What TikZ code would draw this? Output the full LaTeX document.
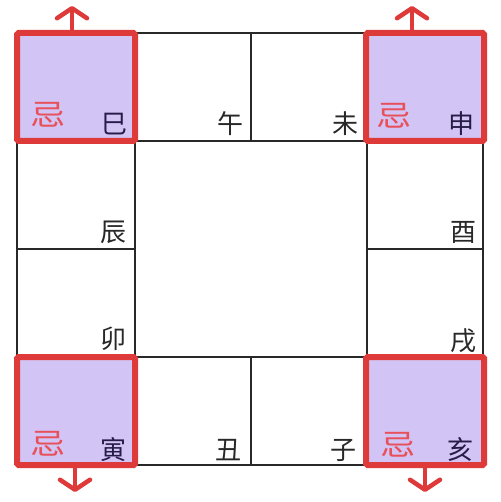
\documentclass[tikz,border=0pt]{standalone}
\usepackage{fontspec}
\newfontfamily\cjk{Noto Sans CJK SC}
\usetikzlibrary{arrows.meta}

\definecolor{jired}{RGB}{222,58,58}
\definecolor{jifill}{RGB}{210,196,244}
\definecolor{jiink}{RGB}{232,80,90}
\definecolor{branchink}{RGB}{40,40,40}
\definecolor{branchdark}{RGB}{38,28,72}

\tikzset{every picture/.style={line width=1.5pt}}
\tikzset{
  cell/.style={draw=branchink, line width=1.5pt},
  jibox/.style={draw=jired, fill=jifill, line width=6pt, rounded corners=1.5pt,
    inner sep=0pt, outer sep=0pt, minimum width=118pt, minimum height=108pt},
  jiarrow/.style={draw=jired, line width=4.5pt, line cap=round,
    -{Straight Barb[length=10pt, width=30pt, line cap=round, line join=round]}},
  branch/.style={anchor=base east, inner sep=0pt, text=branchink,
    font=\cjk\fontsize{26}{26}\selectfont},
  branchji/.style={branch, text=branchdark},
  jilabel/.style={anchor=base west, inner sep=0pt, text=jiink,
    font=\cjk\fontsize{29}{29}\selectfont}
}

\begin{document}
\begin{tikzpicture}[x=1pt,y=1pt,yscale=-1,xscale=1]
\useasboundingbox (0,0) rectangle (500,502);

%Shape: Rectangle [cells of the ring]
\draw [cell] (135,33) rectangle (251,141) ;
\draw [cell] (251,33) rectangle (367,141) ;
\draw [cell] (367,141) rectangle (483,249) ;
\draw [cell] (367,249) rectangle (483,357) ;
\draw [cell] (251,357) rectangle (367,465) ;
\draw [cell] (135,357) rectangle (251,465) ;
\draw [cell] (17,249) rectangle (135,357) ;
\draw [cell] (17,141) rectangle (135,249) ;

%Shape: Rectangle [marked corners]
\node [jibox] (si) at (76,87) {};
\node [jibox] (shen) at (425,87) {};
\node [jibox] (hai) at (425,411) {};
\node [jibox] (yin) at (76,411) {};

%Straight Lines [arrows out of the marked corners]
\coordinate (si-out) at (72,6);
\coordinate (shen-out) at (412,6);
\coordinate (hai-out) at (425,492);
\coordinate (yin-out) at (75,492);
\draw [jiarrow] (si-out |- si.north) -- (si-out) ;
\draw [jiarrow] (shen-out |- shen.north) -- (shen-out) ;
\draw [jiarrow] (hai-out |- hai.south) -- (hai-out) ;
\draw [jiarrow] (yin-out |- yin.south) -- (yin-out) ;

% Text Node
\draw (128,134) node [branchji] (lbl-si) {巳};
% Text Node
\draw (244,134) node [branch] (lbl-wu) {午};
% Text Node
\draw (359,134) node [branch] (lbl-wei) {未};
% Text Node
\draw (475,134) node [branchji] (lbl-shen) {申};
% Text Node
\draw (477,241) node [branch] (lbl-you) {酉};
% Text Node
\draw (477,350) node [branch] (lbl-xu) {戌};
% Text Node
\draw (474,459) node [branchji] (lbl-hai) {亥};
% Text Node
\draw (357,459) node [branch] (lbl-zi) {子};
% Text Node
\draw (242,459) node [branch] (lbl-chou) {丑};
% Text Node
\draw (127,459) node [branchji] (lbl-yin) {寅};
% Text Node
\draw (127,348) node [branch] (lbl-mao) {卯};
% Text Node
\draw (127,241) node [branch] (lbl-chen) {辰};

% Text Node
\draw (30,126) node [jilabel] (ji-si) {\scalebox{1.22}[1]{忌}};
% Text Node
\draw (376,127) node [jilabel] (ji-shen) {\scalebox{1.22}[1]{忌}};
% Text Node
\draw (380,455) node [jilabel] (ji-hai) {\scalebox{1.22}[1]{忌}};
% Text Node
\draw (30,454) node [jilabel] (ji-yin) {\scalebox{1.22}[1]{忌}};

\end{tikzpicture}
\end{document}
